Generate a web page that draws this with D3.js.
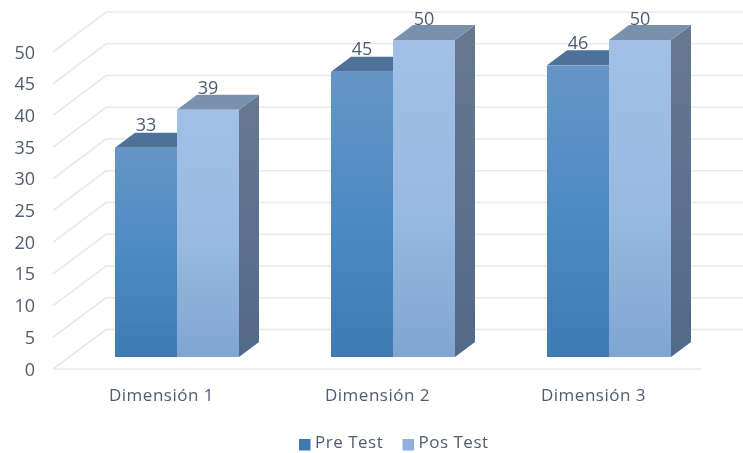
<!DOCTYPE html>
<html><head><meta charset="utf-8">
<script src="https://cdnjs.cloudflare.com/ajax/libs/d3/7.8.5/d3.min.js"></script>
<style>html,body{margin:0;padding:0;background:#fff}svg{display:block}text{font-family:"Open Sans",sans-serif;fill:#505c72}</style>
</head><body><svg id="c" width="743" height="453"></svg>
<script>
const categories=["Dimensión 1","Dimensión 2","Dimensión 3"];
const seriesNames=["Pre Test","Pos Test"];
const preTest=[33,45,46];
const posTest=[39,50,50];
const ticks=[0,5,10,15,20,25,30,35,40,45,50];

const svg=d3.select("#c");
const defs=svg.append("defs");
function grad(id,stops){const g=defs.append("linearGradient").attr("id",id).attr("x1",0).attr("y1",0).attr("x2",0).attr("y2",1);
 stops.forEach(s=>g.append("stop").attr("offset",s[0]).attr("stop-color",s[1]));}
grad("preF",[[0,"#6595c5"],[0.55,"#4c89c3"],[1,"#3f7ab3"]]);
grad("posF",[[0,"#a2c0e6"],[0.55,"#97b9e2"],[1,"#80a5d1"]]);
grad("posS",[[0,"#67798f"],[1,"#52698a"]]);
defs.append("filter").attr("id","soft").append("feGaussianBlur").attr("stdDeviation",0.55);

const root=svg.append("g").attr("filter","url(#soft)");
const y=d3.scaleLinear().domain([0,50]).range([357,40]);       // front plane of the bars
const wall=d3.scaleLinear().domain([0,50]).range([329.5,12]);  // back wall
const front=d3.scaleLinear().domain([0,50]).range([369,52]);   // front edge of the floor
const x=d3.scaleBand().domain(categories).range([72,720]).paddingInner(0).paddingOuter(0);
const sub=d3.scaleBand().domain(seriesNames).range([43,167]);
const dx=20,dy=15;

// grid
const grid=root.append("g").attr("fill","none").attr("stroke","#e6e9ef").attr("stroke-width",1.7);
ticks.forEach(t=>{
 grid.append("path").attr("d",t===0
   ?`M53,${front(t)}L106,${wall(t)}L755,${wall(t)}M53,${front(t)}L701,${front(t)}`
   :`M53,${front(t)}L106,${wall(t)}L755,${wall(t)}`);
});
// tick labels
root.append("g").selectAll("text").data(ticks).join("text")
 .attr("x",35).attr("y",d=>front(d)+6.5).attr("text-anchor","end").attr("font-size",18).text(d=>d);

// bars
const colours={ "Pre Test":["url(#preF)","#4d7198","#4d7198"], "Pos Test":["url(#posF)","#7a91ae","url(#posS)"] };
function bar(g,cat,name,v){
 const x0=x(cat)+sub(name),w=sub.bandwidth(),t=y(v),b=y(0),c=colours[name];
 g.append("path").attr("fill",c[2]).attr("d",`M${x0+w},${t}L${x0+w+dx},${t-dy}L${x0+w+dx},${b-dy}L${x0+w},${b}Z`);
 g.append("path").attr("fill",c[1]).attr("d",`M${x0},${t}L${x0+dx},${t-dy}L${x0+w+dx},${t-dy}L${x0+w},${t}Z`);
 g.append("rect").attr("x",x0).attr("y",t).attr("width",w).attr("height",b-t).attr("fill",c[0]);
}
const bars=root.append("g");
categories.forEach((c,i)=>{bar(bars,c,"Pre Test",preTest[i]);bar(bars,c,"Pos Test",posTest[i]);});

// data labels
const labels=root.append("g").attr("font-size",18).attr("text-anchor","middle");
categories.forEach((c,i)=>{
 labels.append("text").attr("x",x(c)+sub("Pre Test")+31).attr("y",y(preTest[i])-16.5).text(preTest[i]);
 labels.append("text").attr("x",x(c)+sub("Pos Test")+31).attr("y",y(posTest[i])-15.5).text(posTest[i]);
});
// category labels
root.append("g").selectAll("text").data(categories).join("text")
 .attr("x",d=>x(d)+89.5).attr("y",400.5).attr("text-anchor","middle").attr("font-size",17).attr("letter-spacing",0.5).text(d=>d);

// legend
const lg=root.append("g");
const legendX=[299,402.5];
seriesNames.forEach((n,i)=>{
 lg.append("rect").attr("x",legendX[i]).attr("y",439).attr("width",11.5).attr("height",11.5).attr("fill",i?"#8fb0de":"#3f7ab3");
 lg.append("text").attr("x",legendX[i]+16).attr("y",448).attr("font-size",17).attr("letter-spacing",0.5).text(n);
});
</script></body></html>
